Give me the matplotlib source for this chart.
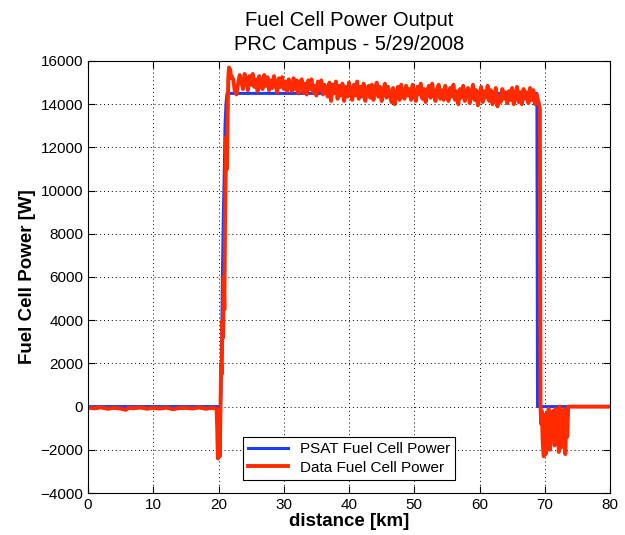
import numpy as np
import matplotlib
matplotlib.use("Agg")
import matplotlib.pyplot as plt

plt.rcParams["font.family"] = ["Liberation Sans", "DejaVu Sans"]

# ---------------------------------
# Data
# ---------------------------------

# PSAT model output (step profile)
psat_km = [0, 20.3, 20.4, 20.5, 20.6, 20.75, 20.9, 21.0, 21.15, 21.3,
           68.8, 68.85, 68.9, 80]
psat_w = [0, 0, 900, 3000, 6000, 9000, 11000, 13000, 14000, 14500,
          14500, 7000, 0, 0]

# measured data: idle section before start
idle_km = [0, 1, 2, 3, 4, 5, 5.8, 6.2, 7, 8, 9, 10, 11, 12, 13, 14,
           15, 16, 17, 18, 19, 19.5]
idle_w = [-50, -80, -40, -100, -60, -90, -150, -60, -80, -40, -100, -60,
          -90, -50, -120, -70, -60, -90, -40, -100, -60, -80]

# measured data: ramp up
ramp_km = [19.7, 19.8, 19.9, 20.0, 20.1, 20.2, 20.3, 20.4, 20.5, 20.6,
           20.7, 20.8, 20.9, 21.0, 21.1, 21.2, 21.3, 21.4, 21.5, 21.6,
           21.7, 21.8, 21.9, 22.0]
ramp_w = [-100, -1000, -2400, -1800, -600, -2300, 0, 2000, 1500, 4000,
          3200, 6000, 4500, 8500, 10500, 12500, 11000, 13500, 15200, 15700,
          15300, 15600, 15200, 15300]

# measured data: cruise section, sampled every 0.25 km from 22.25 km
cruise_start = 22.25
cruise_step = 0.25
cruise_w = [
    15150, 14600, 14450, 14950, 15350, 15050, 14700, 15400, 15150, 14650, 15300, 14900,
    15400, 14800, 15150, 14600, 15300, 14950, 14700, 15350, 14850, 15250, 14650, 15100,
    14750, 15300, 14900, 14550, 15200, 14800, 15250, 14700, 15050, 14600, 15150, 14850,
    14600, 15200, 14700, 15100, 14500, 15000, 15150, 14550, 14950, 14450, 15100, 14700,
    15150, 14550, 14850, 14400, 15050, 14650, 15100, 14450, 14900, 14600, 14350, 15000,
    14150, 14900, 14500, 15050, 14250, 14850, 14400, 14950, 14150, 14800, 14350, 15000,
    14550, 14200, 14900, 14400, 15050, 14250, 14800, 14350, 14950, 14150, 14700, 14850,
    14300, 14900, 14200, 14750, 15000, 14350, 14800, 14150, 14650, 14950, 14300, 14800,
    14450, 14100, 14750, 14000, 14450, 14800, 14200, 14900, 14500, 14250, 14850, 14400,
    14700, 14200, 14900, 14400, 14150, 14800, 14450, 14950, 14250, 14700, 14100, 14650,
    14850, 14300, 14950, 14450, 14150, 14700, 14900, 14250, 14650, 14200, 14850, 14400,
    14150, 14750, 14350, 14900, 14200, 14600, 14000, 14700, 14300, 14850, 14150, 14600,
    14750, 14050, 14450, 14900, 14200, 14650, 13950, 14400, 14800, 14100, 14600, 14300,
    14850, 14150, 14650, 14000, 14400, 14750, 13900, 14350, 14100, 14700, 14250, 14550,
    14050, 14600, 14200, 14750, 14000, 14450, 14800, 14100, 14550, 14000, 14700, 14250,
    14550, 14050, 14750, 14200, 14650, 14000, 14450, 14150,
]

# measured data: shutdown
stop_km = [69.25, 69.35, 69.45, 69.55, 69.7, 69.85, 70.0, 70.15, 70.3,
           70.45, 70.6, 70.75, 70.9, 71.1, 71.3, 71.5, 71.65, 71.8, 72.0,
           72.15, 72.3, 72.5, 72.65, 72.8, 73.0, 73.15, 73.3, 73.45, 73.6,
           74.0, 80.0]
stop_w = [13800, 0, -800, -200, -1800, -2300, -400, -2200, -300, -1900,
          -100, -2000, -500, -1500, -200, -1800, -100, -1300, -300, -2100,
          0, -1900, -200, -1000, -100, -2200, -600, -1400, 0, 0, 0]

cruise_km = cruise_start + cruise_step * np.arange(len(cruise_w))
data_km = np.concatenate([idle_km, ramp_km, cruise_km, stop_km])
data_w = np.concatenate([idle_w, ramp_w, cruise_w, stop_w])

# ---------------------------------
# Plot
# ---------------------------------

fig = plt.figure(figsize=(6.25, 5.35), dpi=100)
ax = fig.add_axes([0.1408, 0.0785, 0.8352, 0.8075])

ax.plot(psat_km, psat_w, color="#1a3cff", lw=2.2, label="PSAT Fuel Cell Power")
ax.plot(data_km, data_w, color="#ff2a00", lw=2.8, label="Data Fuel Cell Power")

ax.set_xlim(0, 80)
ax.set_ylim(-4000, 16000)
ax.set_xticks(np.arange(0, 81, 10))
ax.set_yticks(np.arange(-4000, 16001, 2000))

ax.grid(True, linestyle=(0, (1, 3)), color="black", linewidth=0.7)
ax.tick_params(direction="in", length=5, top=True, right=True, labelsize=11)

ax.set_xlabel("distance [km]", fontsize=13.5, fontweight="bold", labelpad=1)
ax.set_ylabel("Fuel Cell Power [W]", fontsize=13.5, fontweight="bold", labelpad=3)
ax.set_title("Fuel Cell Power Output\nPRC Campus - 5/29/2008", fontsize=14.5,
             linespacing=1.3, pad=8)

leg = ax.legend(loc="lower center", bbox_to_anchor=(0.5, 0.012), fontsize=11,
                fancybox=False, framealpha=1, edgecolor="black",
                borderpad=0.35, handlelength=2.6, labelspacing=0.3)
leg.get_frame().set_linewidth(0.8)

fig.savefig("out.png", dpi=100)
